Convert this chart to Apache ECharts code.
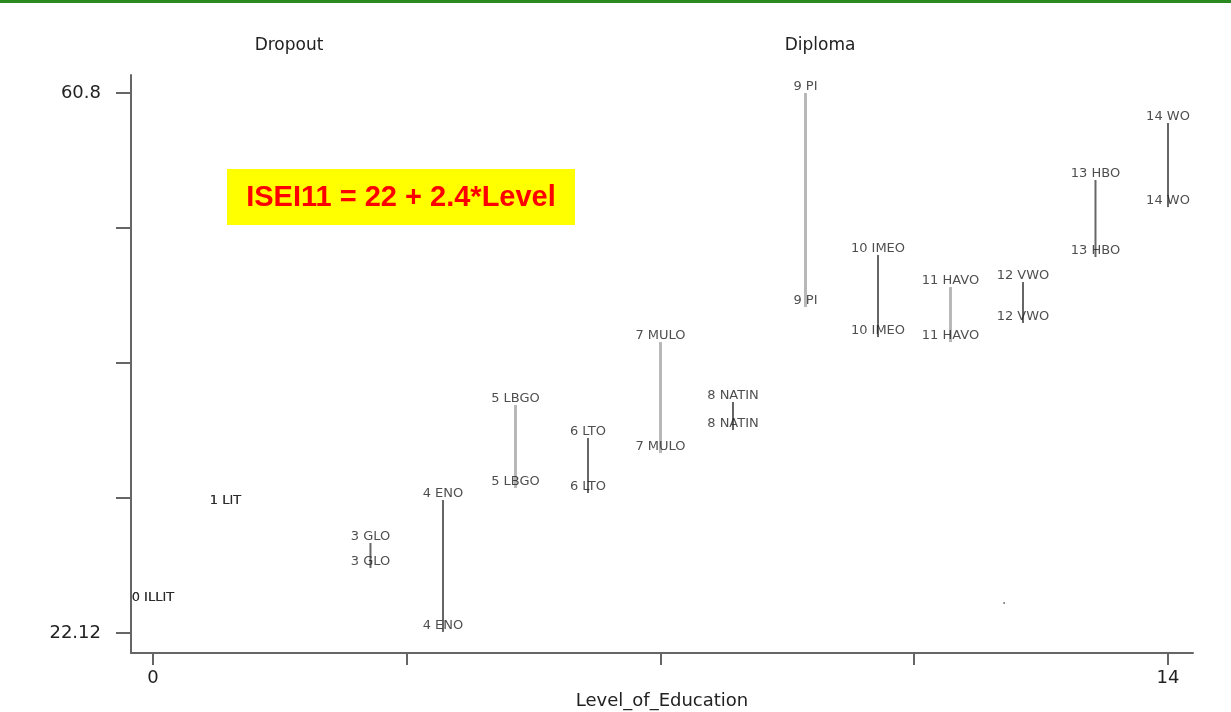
<!DOCTYPE html>
<html>
<head>
<meta charset="utf-8">
<script src="https://cdn.jsdelivr.net/npm/echarts@6/dist/echarts.min.js"></script>
<style>
  html, body { margin: 0; padding: 0; background: #fff; overflow: hidden; }
  #chart { width: 1231px; height: 712px; }
</style>
</head>
<body>
<div id="chart"></div>
<script>
// education levels (x) and school names
const levels = [0, 1, 3, 4, 5, 6, 7, 8, 9, 10, 11, 12, 13, 14];
const schools = ["ILLIT", "LIT", "GLO", "ENO", "LBGO", "LTO", "MULO", "NATIN", "PI", "IMEO", "HAVO", "VWO", "HBO", "WO"];
// ISEI11 values
const dropout = [24.2, 31.15, 26.78, 22.2, 32.51, 32.15, 35.01, 36.66, 45.47, 43.32, 42.96, 44.33, 49.05, 52.63];
const diploma = [24.2, 31.15, 28.57, 31.65, 38.45, 36.09, 42.96, 38.67, 60.8, 49.2, 46.9, 47.26, 54.57, 58.65];
// lone dot near the bottom right
const strayPoint = [[11.74, 24.27]];

const xTicks = [0, 3.5, 7, 10.5, 14];
const xTickLabels = [0, 14];
const yTicks = [22.12, 31.79, 41.46, 51.13, 60.8];
const yTickLabels = [22.12, 60.8];

// levels drawn with a lighter, wider line
const lightLevels = [5, 7, 9, 11];

const font = "DejaVu Sans";
const chart = echarts.init(document.getElementById("chart"));

const labelFmt = (p) => levels[p.dataIndex] + " " + schools[p.dataIndex];
const pointLabel = {
  show: true,
  position: "inside",
  offset: [0, -6],
  formatter: labelFmt,
  fontFamily: font,
  fontSize: 13,
  color: "#222",
};

const option = {
  animation: false,
  grid: { left: 131, top: 75, width: 1062, height: 578, outerBoundsMode: "none" },
  xAxis: {
    type: "value",
    min: -0.303,
    max: 14.345,
    name: "Level_of_Education",
    nameLocation: "middle",
    nameGap: 37,
    nameTextStyle: { fontFamily: font, fontSize: 18, color: "#222" },
    axisLine: { show: true, onZero: false, lineStyle: { color: "#666", width: 2 } },
    axisTick: { show: true, length: 12, customValues: xTicks, lineStyle: { color: "#666", width: 2 } },
    axisLabel: { customValues: xTickLabels, margin: 16, fontFamily: font, fontSize: 18, color: "#222" },
    splitLine: { show: false },
  },
  yAxis: {
    type: "value",
    min: 20.69,
    max: 62.09,
    axisLine: { show: true, onZero: false, lineStyle: { color: "#666", width: 2 } },
    axisTick: { show: true, length: 15, customValues: yTicks, lineStyle: { color: "#666", width: 2 } },
    axisLabel: { customValues: yTickLabels, margin: 30, fontFamily: font, fontSize: 18, color: "#222", formatter: (v) => String(v) },
    splitLine: { show: false },
  },
  graphic: [
    { type: "rect", left: 0, top: 0, shape: { width: 1231, height: 3 }, style: { fill: "#2b8a1f" } },
    { type: "text", x: 289, y: 46, style: { text: "Dropout", fill: "#222", font: "17px " + font, textAlign: "center", textVerticalAlign: "middle" } },
    { type: "text", x: 820, y: 46, style: { text: "Diploma", fill: "#222", font: "17px " + font, textAlign: "center", textVerticalAlign: "middle" } },
    { type: "rect", left: 227, top: 169, shape: { width: 348, height: 56 }, style: { fill: "#ffff00" } },
    { type: "text", x: 401, y: 198, style: { text: "ISEI11 = 22 + 2.4*Level", fill: "#ff0000", font: "bold 29px 'Liberation Sans'", textAlign: "center", textVerticalAlign: "middle" } },
  ],
  series: [
    {
      type: "custom",
      name: "range",
      data: levels.map((l, i) => [l, dropout[i], diploma[i]]),
      renderItem: (params, api) => {
        const lv = api.value(0);
        const p1 = api.coord([lv, api.value(1)]);
        const p2 = api.coord([lv, api.value(2)]);
        const light = lightLevels.includes(lv);
        return {
          type: "line",
          shape: { x1: p1[0], y1: p1[1], x2: p2[0], y2: p2[1] },
          style: { stroke: light ? "#b8b8b8" : "#666", lineWidth: light ? 3 : 2 },
        };
      },
      z: 1,
    },
    {
      type: "scatter",
      name: "Dropout",
      symbolSize: 0,
      data: levels.map((l, i) => [l, dropout[i]]),
      label: pointLabel,
      z: 3,
    },
    {
      type: "scatter",
      name: "Diploma",
      symbolSize: 0,
      data: levels.map((l, i) => [l, diploma[i]]),
      label: pointLabel,
      z: 3,
    },
    {
      type: "scatter",
      name: "stray",
      symbolSize: 2,
      itemStyle: { color: "#555" },
      data: strayPoint,
    },
  ],
};

chart.setOption(option);
</script>
</body>
</html>
